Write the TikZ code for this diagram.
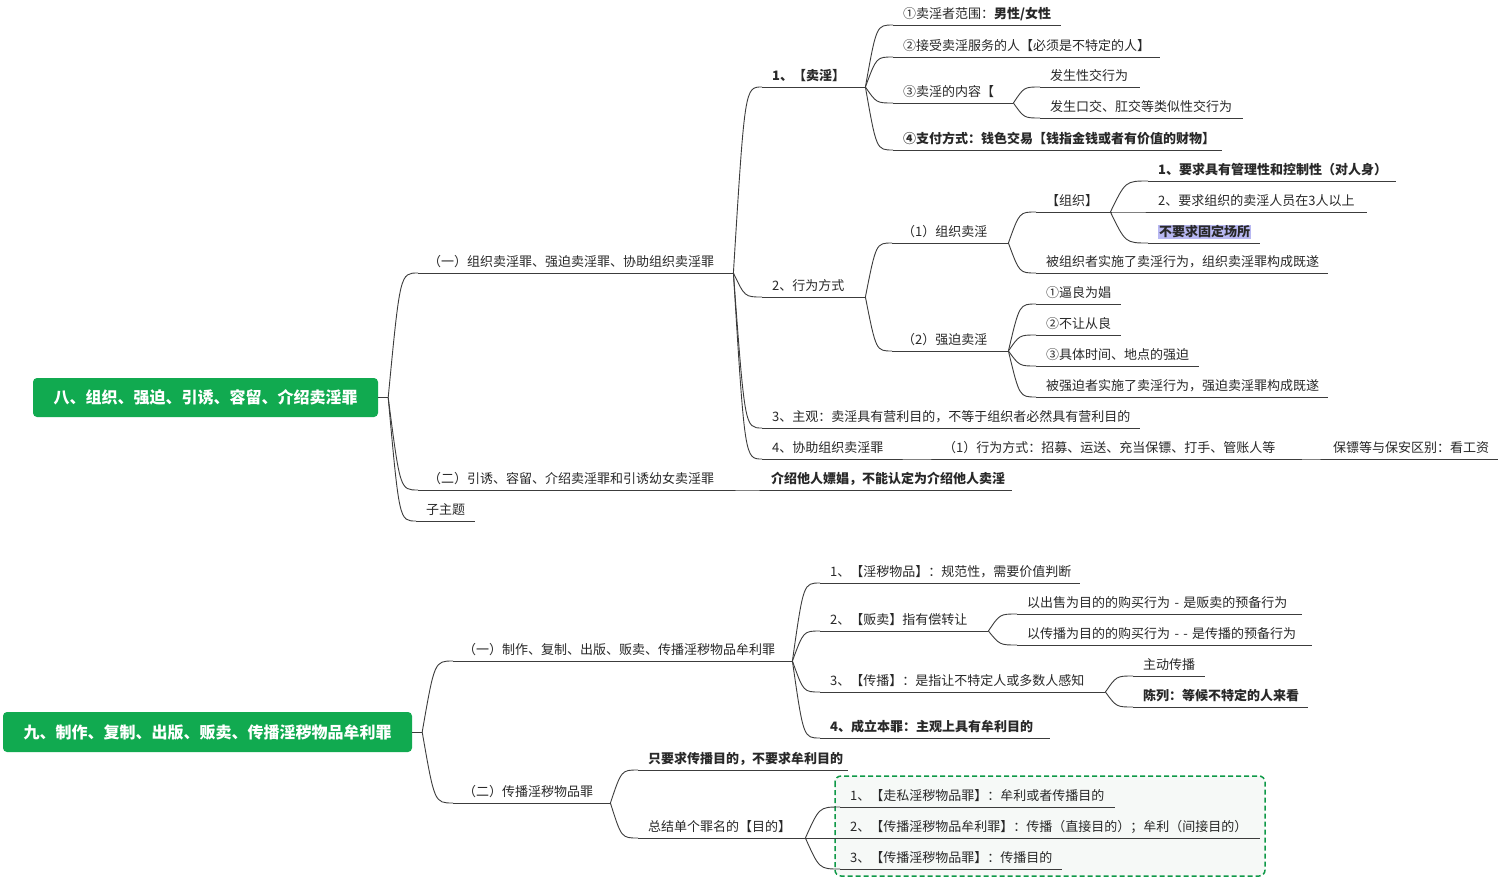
\documentclass[tikz,border=0pt]{standalone}
\usepackage{fontspec}
\setmainfont{Noto Sans CJK SC}
\usetikzlibrary{calc}
\definecolor{mmgreen}{RGB}{17,170,80}
\definecolor{linec}{RGB}{60,60,60}
\definecolor{textc}{RGB}{40,40,40}
\definecolor{hilite}{RGB}{184,184,242}
\definecolor{boxfill}{RGB}{246,249,247}
\begin{document}
\begin{tikzpicture}[x=1pt,y=-1pt,
  font=\fontsize{13}{15}\selectfont,text=textc,
  rootbox/.style={fill=mmgreen,text=white,rounded corners=4pt,inner sep=0pt,
    font=\fontsize{16}{18}\selectfont\bfseries},
  topic/.style={anchor=south west,inner xsep=10pt,inner ysep=3pt,
    text height=10pt,text depth=3pt,align=left,text width=#1},
  strong/.style={font=\fontsize{13}{15}\selectfont\bfseries},
  wire/.style={draw=linec,line width=0.9pt},
  twig/.style={to path={let \p1=(\tikztostart),\p2=(\tikztotarget) in
    .. controls ({\x1+0.4*(\x2-\x1)},\y2) .. (\tikztotarget)}}]
  \fill[white] (0,0) rectangle (1498,878);
  \useasboundingbox (0,0) rectangle (1498,878);
  \draw[draw=mmgreen!90!black,fill=boxfill,line width=1.5pt,dash pattern=on 5pt off 3pt,
    rounded corners=6pt] (835,776) rectangle (1265,876);

  \node[rootbox,minimum width=345,minimum height=39] (r1) at (205.5,397.5) {八、组织、强迫、引诱、容留、介绍卖淫罪};
  \coordinate (h1) at ([xshift=10pt]r1.east);
  \node[topic=295] (t1) at (418,273) {（一）组织卖淫罪、强迫卖淫罪、协助组织卖淫罪};
  \node[topic=295] (t2) at (418,490) {（二）引诱、容留、介绍卖淫罪和引诱幼女卖淫罪};
  \node[topic=231,strong] (t2a) at (761,490) {介绍他人嫖娼，不能认定为介绍他人卖淫};
  \node[topic=39] (t3) at (416,521) {子主题};
  \node[topic=83,strong] (a1) at (762,87) {1、【卖淫】};
  \node[topic=83] (a2) at (762,297) {2、行为方式};
  \node[topic=358] (a3) at (762,428) {3、主观：卖淫具有营利目的，不等于组织者必然具有营利目的};
  \node[topic=118] (a4) at (762,459) {4、协助组织卖淫罪};
  \node[topic=347] (a4b) at (933,459) {（1）行为方式：招募、运送、充当保镖、打手、管账人等};
  \node[topic=155] (a4c) at (1323,459) {保镖等与保安区别：看工资};
  \node[topic=148] (b1) at (893,25) {①卖淫者范围：\textbf{男性/女性}};
  \node[topic=247] (b2) at (893,57) {②接受卖淫服务的人【必须是不特定的人】};
  \node[topic=100] (b3) at (893,103) {③卖淫的内容【};
  \node[topic=309,strong] (b4) at (893,150) {④支付方式：钱色交易【钱指金钱或者有价值的财物】};
  \node[topic=80] (c1) at (1040,87) {发生性交行为};
  \node[topic=183] (c2) at (1040,118) {发生口交、肛交等类似性交行为};
  \node[topic=96] (d1) at (892,243) {（1）组织卖淫};
  \node[topic=96] (d2) at (892,351) {（2）强迫卖淫};
  \node[topic=54] (e1) at (1036,212) {【组织】};
  \node[topic=272] (e2) at (1036,273) {被组织者实施了卖淫行为，组织卖淫罪构成既遂};
  \node[topic=228,strong] (f1) at (1148,181) {1、要求具有管理性和控制性（对人身）};
  \node[topic=199] (f2) at (1148,212) {2、要求组织的卖淫人员在3人以上};
  \node[topic=92] (f3) at (1148,243) {{\fboxsep=1pt\colorbox{hilite}{\bfseries 不要求固定场所}}};
  \node[topic=65] (g1) at (1036,304) {①逼良为娼};
  \node[topic=65] (g2) at (1036,335) {②不让从良};
  \node[topic=143] (g3) at (1036,366) {③具体时间、地点的强迫};
  \node[topic=272] (g4) at (1036,397) {被强迫者实施了卖淫行为，强迫卖淫罪构成既遂};

  \node[rootbox,minimum width=409,minimum height=40] (r2) at (207.5,732) {九、制作、复制、出版、贩卖、传播淫秽物品牟利罪};
  \coordinate (h2) at ([xshift=10pt]r2.east);
  \node[topic=319] (u1) at (453,661) {（一）制作、复制、出版、贩卖、传播淫秽物品牟利罪};
  \node[topic=137] (u2) at (453,803) {（二）传播淫秽物品罪};
  \node[topic=240] (v1) at (820,583) {1、【淫秽物品】：规范性，需要价值判断};
  \node[topic=148] (v2) at (820,631) {2、【贩卖】指有偿转让};
  \node[topic=265] (v3) at (820,692) {3、【传播】：是指让不特定人或多数人感知};
  \node[topic=210,strong] (v4) at (820,738) {4、成立本罪：主观上具有牟利目的};
  \node[topic=265] (w1) at (1017,614) {以出售为目的的购买行为~-~是贩卖的预备行为};
  \node[topic=275] (w2) at (1017,645) {以传播为目的的购买行为~-~-~是传播的预备行为};
  \node[topic=52] (w3) at (1133,676) {主动传播};
  \node[topic=155,strong] (w4) at (1133,707) {陈列：等候不特定的人来看};
  \node[topic=190,strong] (x1) at (638,770) {只要求传播目的，不要求牟利目的};
  \node[topic=147] (x2) at (638,838) {总结单个罪名的【目的】};
  \node[topic=255] (y1) at (840,807) {1、【走私淫秽物品罪】：牟利或者传播目的};
  \node[topic=400] (y2) at (840,838) {2、【传播淫秽物品牟利罪】：传播（直接目的）；牟利（间接目的）};
  \node[topic=202] (y3) at (840,869) {3、【传播淫秽物品罪】：传播目的};

  \foreach \n in {t1,t2,t2a,t3,a1,a2,a3,a4,a4b,a4c,b1,b2,b3,b4,c1,c2,d1,d2,e1,e2,
    f1,f2,f3,g1,g2,g3,g4,u1,u2,v1,v2,v3,v4,w1,w2,w3,w4,x1,x2,y1,y2,y3}
    \draw[wire] (\n.south west) -- (\n.south east);
  \draw[wire] (r1.east) -- (h1) (r2.east) -- (h2);
  \foreach \c in {t1,t2,t3} \draw[wire] (h1) to[twig] (\c.south west);
  \foreach \c in {u1,u2} \draw[wire] (h2) to[twig] (\c.south west);
  \foreach \p/\c in {t1/a1,t1/a2,t1/a3,t1/a4,t2/t2a,a4/a4b,a4b/a4c,a1/b1,a1/b2,a1/b3,a1/b4,
    b3/c1,b3/c2,a2/d1,a2/d2,d1/e1,d1/e2,e1/f1,e1/f2,e1/f3,d2/g1,d2/g2,d2/g3,d2/g4,
    u1/v1,u1/v2,u1/v3,u1/v4,v2/w1,v2/w2,v3/w3,v3/w4,u2/x1,u2/x2,x2/y1,x2/y2,x2/y3}
    \draw[wire] (\p.south east) to[twig] (\c.south west);
\end{tikzpicture}
\end{document}
